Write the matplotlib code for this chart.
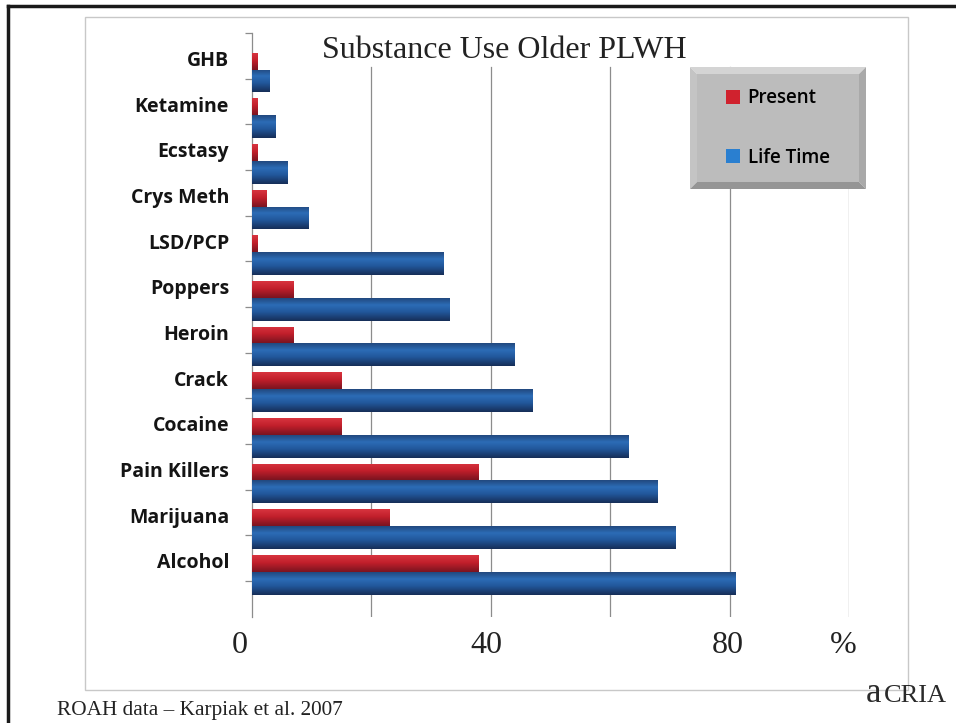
import numpy as np
import matplotlib.pyplot as plt
import matplotlib.transforms as mtransforms
from matplotlib.colors import LinearSegmentedColormap
from matplotlib.patches import Rectangle, Patch, Polygon
from matplotlib.lines import Line2D

substances = ['GHB', 'Ketamine', 'Ecstasy', 'Crys Meth', 'LSD/PCP', 'Poppers',
              'Heroin', 'Crack', 'Cocaine', 'Pain Killers', 'Marijuana', 'Alcohol']
present = [1, 1, 1, 2.5, 1, 7, 7, 15, 15, 38, 23, 38]
life_time = [3, 4, 6, 9.5, 32, 33, 44, 47, 63, 68, 71, 81]
series_names = ['Present', 'Life Time']
x_ticks = [0, 40, 80, 100]
x_tick_labels = ['0', '40', '80', '%']

W, H = 956, 723
fig = plt.figure(figsize=(W / 100, H / 100), dpi=100)


def fx(px):
    return px / W


def fy(py):
    return 1 - py / H


# slide frame: heavy top/left edge and light chart-area border
fig.add_artist(Line2D([fx(8), 1], [fy(6), fy(6)], color='#1a1a1a', lw=2.5))
fig.add_artist(Line2D([fx(8), fx(8)], [0, fy(6)], color='#1a1a1a', lw=2.5))
fig.add_artist(Rectangle((fx(85), fy(690)), fx(908) - fx(85), fy(17) - fy(690),
                         fill=False, ec='#c8c8c8', lw=1))

ax = fig.add_axes([fx(252), fy(617), fx(849) - fx(252), fy(33) - fy(617)])
y = np.arange(len(substances))

red_cmap = LinearSegmentedColormap.from_list(
    'red', [(0, '#d8343f'), (0.45, '#c11f2b'), (1, '#7a1420')])
blue_cmap = LinearSegmentedColormap.from_list(
    'blue', [(0, '#22497f'), (0.3, '#2c6cb6'), (0.6, '#22589c'), (1, '#162e58')])

bars_p = ax.barh(y + 0.115, present, height=0.37, color='#c11f2b', zorder=3)
bars_l = ax.barh(y + 0.55, life_time, height=0.50, color='#22589c', zorder=3)


def shade(bars, cmap):
    grad = np.linspace(0, 1, 64).reshape(-1, 1)
    for b in bars:
        x0, y0 = b.get_xy()
        w, h = b.get_width(), b.get_height()
        im = ax.imshow(grad, cmap=cmap, aspect='auto', origin='upper',
                       extent=(x0, x0 + w, y0 + h, y0), zorder=3.5,
                       interpolation='bilinear')
        im.set_clip_path(b)


shade(bars_p, red_cmap)
shade(bars_l, blue_cmap)

ax.set_xlim(0, 100)
ax.set_ylim(12.29, -0.5)

for gx in range(20, 101, 20):
    ax.axvline(gx, ymin=0, ymax=(617 - 67) / 584, color='#8c8c8c', lw=0.9, zorder=1)

for s in ['top', 'right', 'bottom']:
    ax.spines[s].set_visible(False)
ax.spines['left'].set_color('#8c8c8c')
ax.spines['left'].set_linewidth(0.9)

# ticks mark category boundaries, names sit at the centres
ax.set_yticks(np.arange(len(substances) + 1) - 0.5)
ax.set_yticklabels([])
ax.set_yticks(y + 0.06, minor=True)
ax.set_yticklabels(substances, minor=True, fontfamily='Open Sans',
                   fontweight='bold', fontsize=14, color='#141414')
ax.tick_params(axis='y', which='major', length=5, width=0.9, color='#8c8c8c')
ax.tick_params(axis='y', which='minor', length=0, pad=16.5)

ax.set_xticks(x_ticks)
ax.set_xticklabels(x_tick_labels, fontfamily='Liberation Serif', fontsize=23,
                   color='#222222')
ax.tick_params(axis='x', length=0, pad=10)
nudges = [-12, -4, -2, -6]
for lbl, dx in zip(ax.get_xticklabels(), nudges):
    lbl.set_transform(lbl.get_transform() +
                      mtransforms.ScaledTranslation(dx / 100, 0, fig.dpi_scale_trans))

# bevelled grey legend box
lax = fig.add_axes([fx(690), fy(189), fx(866) - fx(690), fy(67) - fy(189)])
lax.set_xlim(0, 176)
lax.set_ylim(0, 122)
lax.axis('off')
bw = 7
lax.add_patch(Polygon([(0, 122), (176, 122), (176 - bw, 122 - bw), (bw, 122 - bw)],
                      closed=True, fc='#d4d4d4', ec='none'))
lax.add_patch(Polygon([(0, 0), (bw, bw), (bw, 122 - bw), (0, 122)],
                      closed=True, fc='#c4c4c4', ec='none'))
lax.add_patch(Polygon([(176, 0), (176, 122), (176 - bw, 122 - bw), (176 - bw, bw)],
                      closed=True, fc='#a9a9a9', ec='none'))
lax.add_patch(Polygon([(0, 0), (176, 0), (176 - bw, bw), (bw, bw)],
                      closed=True, fc='#959595', ec='none'))
lax.add_patch(Rectangle((bw, bw), 176 - 2 * bw, 122 - 2 * bw, fc='#bcbcbc', ec='none'))

fig.legend(handles=[Patch(fc='#d0222e'), Patch(fc='#2a7fd0')], labels=series_names,
           loc='center left', bbox_to_anchor=(fx(726), fy(128)), frameon=False,
           borderpad=0, borderaxespad=0, handlelength=0.75, handleheight=0.75,
           handletextpad=0.4, labelspacing=2.1,
           prop={'family': 'Open Sans', 'weight': 'semibold', 'size': 13.5})

fig.text(fx(504), fy(58), 'Substance Use Older PLWH', ha='center', va='baseline',
         fontfamily='Liberation Serif', fontsize=23, color='#222222')
fig.text(fx(57), fy(715), 'ROAH data \u2013 Karpiak et al. 2007', ha='left',
         va='baseline', fontfamily='Liberation Serif', fontsize=15.3, color='#222222')
# logo: lowercase a followed by small capitals
fig.text(fx(866), fy(702), 'a', ha='left', va='baseline',
         fontfamily='Liberation Serif', fontsize=25, color='#2a2a2a')
fig.text(fx(884), fy(702), 'CRIA', ha='left', va='baseline',
         fontfamily='Liberation Serif', fontsize=19, color='#2a2a2a')

fig.savefig('out.png', dpi=100)
